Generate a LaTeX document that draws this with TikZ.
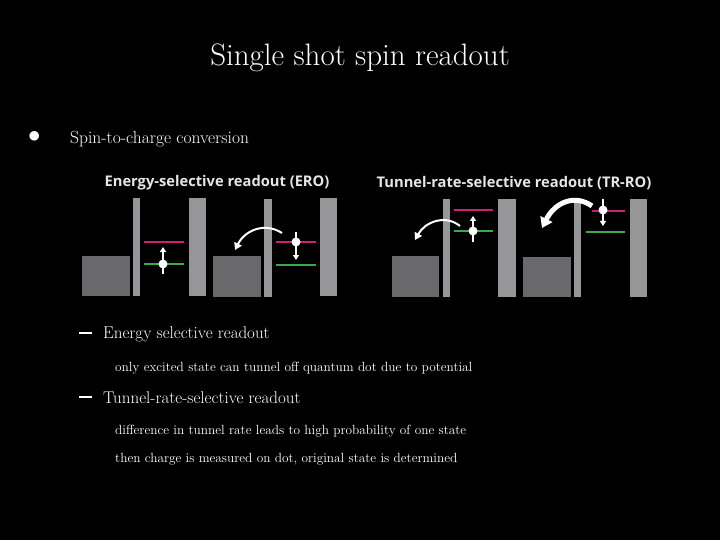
\documentclass[tikz,border=0pt]{standalone}
\usepackage{fontspec}
\setsansfont{Open Sans}
\usetikzlibrary{arrows.meta}
\definecolor{barrier}{RGB}{150,150,152}
\definecolor{lead}{RGB}{105,105,107}
\definecolor{upper}{RGB}{205,30,120}
\definecolor{lower}{RGB}{60,170,70}
\definecolor{caption}{RGB}{230,230,230}
\tikzset{
  wall/.style={fill=barrier},
  res/.style={fill=lead},
  lvl/.style={line width=2.2pt},
  spin/.style={white, line width=2pt, -{Triangle[length=5pt,width=6pt]}},
  hop/.style={white, line width=2pt, -{Triangle[length=7pt,width=8pt]}},
  plain/.style={text=white, anchor=west, inner sep=0pt},
  itemdash/.style={white, line width=2pt},
  head/.style={text=caption, font=\sffamily\bfseries\fontsize{14.7}{16}\selectfont},
}
\begin{document}
\begin{tikzpicture}[x=1pt,y=-1pt]
 \fill[black] (0,0) rectangle (720,540);
 \useasboundingbox (0,0) rectangle (720,540);

 \node[text=white, font=\fontsize{31}{34}\selectfont] (title) at (360,58) {Single shot spin readout};
 \node[plain, font=\fontsize{26}{26}\selectfont] (b1) at (28,137) {$\bullet$};
 \node[plain, font=\fontsize{17.5}{20}\selectfont] (conv) at (70,139) {Spin-to-charge conversion};

 % ERO
 \node[head] (ero) at (217,183) {Energy-selective readout (ERO)};
 \fill[res] (82,256) rectangle (130,296);
 \fill[wall] (133,198) rectangle (140,296);
 \draw[lvl, upper] (144,242) -- (184,242);
 \draw[lvl, lower] (144,264) -- (184,264);
 \draw[spin] (163,274) -- (163,247);
 \fill[white] (163,264) circle (4.5pt);
 \fill[wall] (189,198) rectangle (206,296);
 \fill[res] (213,256) rectangle (261,297);
 \fill[wall] (264,199) rectangle (272,297);
 \draw[lvl, upper] (276,242) -- (316,242);
 \draw[lvl, lower] (276,265) -- (316,265);
 \draw[spin] (296,232) -- (296,260);
 \fill[white] (296,242) circle (4.5pt);
 \fill[wall] (320,198) rectangle (337,296);
 \draw[hop] (282,233) .. controls (265,222) and (245,230) .. (235,250);

 % TR-RO
 \node[head] (trro) at (514,183) {Tunnel-rate-selective readout (TR-RO)};
 \fill[res] (392,256) rectangle (439,297);
 \fill[wall] (443,199) rectangle (450,297);
 \draw[lvl, upper] (454,210) -- (493,210);
 \draw[lvl, lower] (454,231) -- (493,231);
 \draw[spin] (473,242) -- (473,216);
 \fill[white] (473,231) circle (4.5pt);
 \fill[wall] (498,199) rectangle (516,297);
 \draw[hop] (460,226) .. controls (445,214) and (425,222) .. (415,240);
 \fill[res] (523,257) rectangle (571,297);
 \fill[wall] (574,199) rectangle (581,297);
 \draw[lvl, upper] (592,211) -- (625,211);
 \draw[lvl, lower] (586,232) -- (625,232);
 \draw[spin] (603,199) -- (603,226);
 \fill[white] (603,210) circle (4.5pt);
 \fill[wall] (630,199) rectangle (647,297);
 \draw[white, line width=5pt, -{Triangle[length=10pt,width=13pt]}] (592,206) .. controls (575,194) and (555,202) .. (542,228);

 % sub items
 \draw[itemdash] (79,333) -- (92,333);
 \node[plain, font=\fontsize{17}{20}\selectfont] (e1) at (103,334) {Energy selective readout};
 \node[plain, font=\fontsize{13.3}{16}\selectfont] (t1) at (115,368) {only excited state can tunnel off quantum dot due to potential};
 \draw[itemdash] (79,397) -- (92,397);
 \node[plain, font=\fontsize{17}{20}\selectfont] (e2) at (103,398) {Tunnel-rate-selective readout};
 \node[plain, font=\fontsize{13.3}{16}\selectfont] (t2) at (115,431) {difference in tunnel rate leads to high probability of one state};
 \node[plain, font=\fontsize{13.3}{16}\selectfont] (t3) at (115,459) {then charge is measured on dot, original state is determined};
\end{tikzpicture}
\end{document}
